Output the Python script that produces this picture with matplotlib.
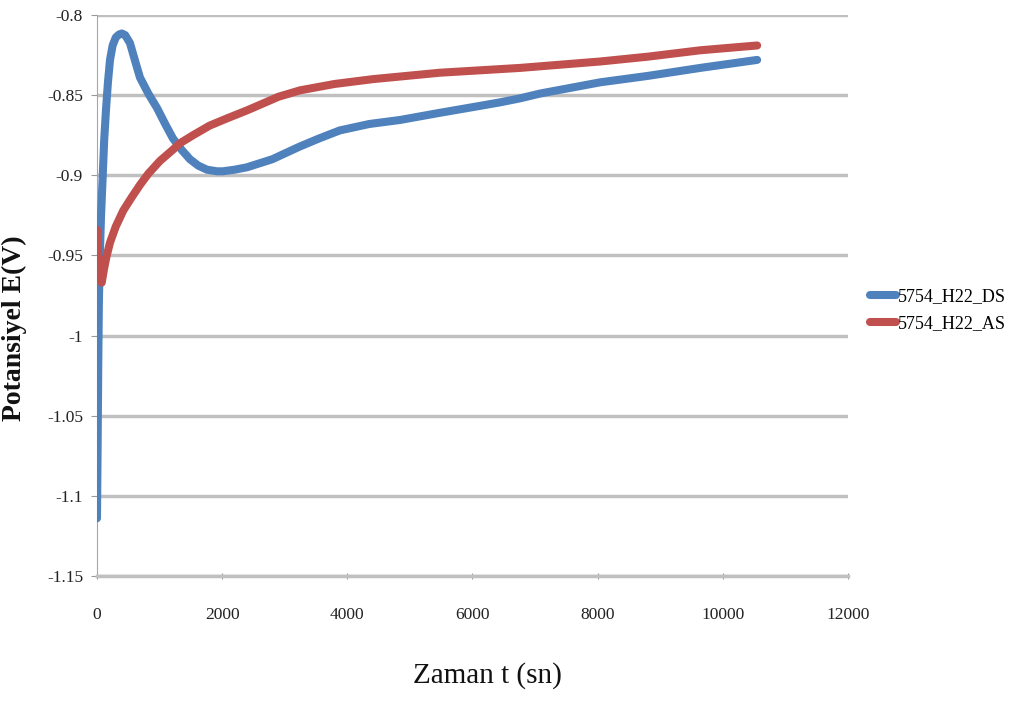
import matplotlib
matplotlib.use("Agg")
import matplotlib.pyplot as plt

t_ds = [0, 10, 20, 30, 45, 65, 91, 115, 144, 175, 208, 250, 300, 350, 395, 450, 527,
        634, 687, 820, 959, 1090, 1214, 1350, 1486, 1620, 1758, 1917, 2013, 2200, 2397,
        2800, 3244, 3550, 3880, 4350, 4840, 5480, 6000, 6440, 6760, 7080, 8040, 8800,
        9640, 10550]
v_ds = [-1.114, -1.07, -1.02, -0.98, -0.95, -0.925, -0.901, -0.878, -0.859, -0.842,
        -0.828, -0.819, -0.814, -0.8122, -0.8115, -0.8125, -0.8175, -0.832, -0.839,
        -0.849, -0.858, -0.868, -0.877, -0.884, -0.890, -0.894, -0.8965, -0.8975,
        -0.8975, -0.8965, -0.895, -0.890, -0.882, -0.877, -0.872, -0.868, -0.8655,
        -0.861, -0.8575, -0.8545, -0.852, -0.849, -0.842, -0.838, -0.833, -0.828]

t_as = [0, 20, 45, 75, 110, 150, 208, 300, 420, 550, 687, 820, 1007, 1214, 1326, 1534,
        1800, 2077, 2397, 2605, 2900, 3244, 3800, 4410, 5480, 6760, 7080, 8040, 8800,
        9640, 10550]
v_as = [-0.934, -0.950, -0.962, -0.967, -0.959, -0.951, -0.942, -0.932, -0.922,
        -0.914, -0.906, -0.899, -0.891, -0.884, -0.880, -0.875, -0.869, -0.8645, -0.8595,
        -0.856, -0.851, -0.847, -0.843, -0.840, -0.836, -0.833, -0.832, -0.829, -0.826,
        -0.822, -0.819]

labels = ["5754_H22_DS", "5754_H22_AS"]
xticks = [0, 2000, 4000, 6000, 8000, 10000, 12000]
yticks = [-1.15, -1.1, -1.05, -1.0, -0.95, -0.9, -0.85, -0.8]
ytick_labels = ["-1.15", "-1.1", "-1.05", "-1", "-0.95", "-0.9", "-0.85", "-0.8"]

plt.rcParams['font.family'] = ['Liberation Serif', 'DejaVu Serif']

fig = plt.figure(figsize=(10.34, 7.02), dpi=100)
ax = fig.add_axes([0.0938, 0.1795, 0.7262, 0.7991])

ax.plot(t_ds, v_ds, color='#4F81BD', lw=5.8, solid_capstyle='round',
        solid_joinstyle='round', label=labels[0], zorder=3)
ax.plot(t_as, v_as, color='#C0504D', lw=5.8, solid_capstyle='round',
        solid_joinstyle='round', label=labels[1], zorder=3)

ax.set_xlim(0, 12000)
ax.set_ylim(-1.15, -0.8)
ax.set_xticks(xticks)
ax.set_yticks(yticks)
ax.set_yticklabels(ytick_labels)
ax.yaxis.grid(True, color='#C0C0C0', lw=2.5)
ax.set_axisbelow(True)
for s in ['top', 'right']:
    ax.spines[s].set_visible(False)
ax.spines['left'].set_color('#A6A6A6')
ax.spines['bottom'].set_color('#C0C0C0')
ax.spines['bottom'].set_linewidth(2.5)
ax.tick_params(axis='both', labelsize=12.5, colors='#999999', labelcolor='#222222', length=4)
ax.tick_params(axis='x', direction='inout', pad=20)
ax.tick_params(axis='y', direction='out', pad=6)

ax.set_xlabel("Zaman t (sn)", fontsize=21, fontweight='normal', color='#111111')
ax.xaxis.set_label_coords(0.52, -0.153)
ax.set_ylabel("Potansiyel E(V)", fontsize=20, fontweight='bold', color='#111111')
ax.yaxis.set_label_coords(-0.093, 0.442)

fig.legend(loc='center left', bbox_to_anchor=(0.826, 0.5585), frameon=False, fontsize=13,
           handlelength=1.4, labelspacing=0.55, handletextpad=0.1)

fig.savefig("out.png", dpi=100)
